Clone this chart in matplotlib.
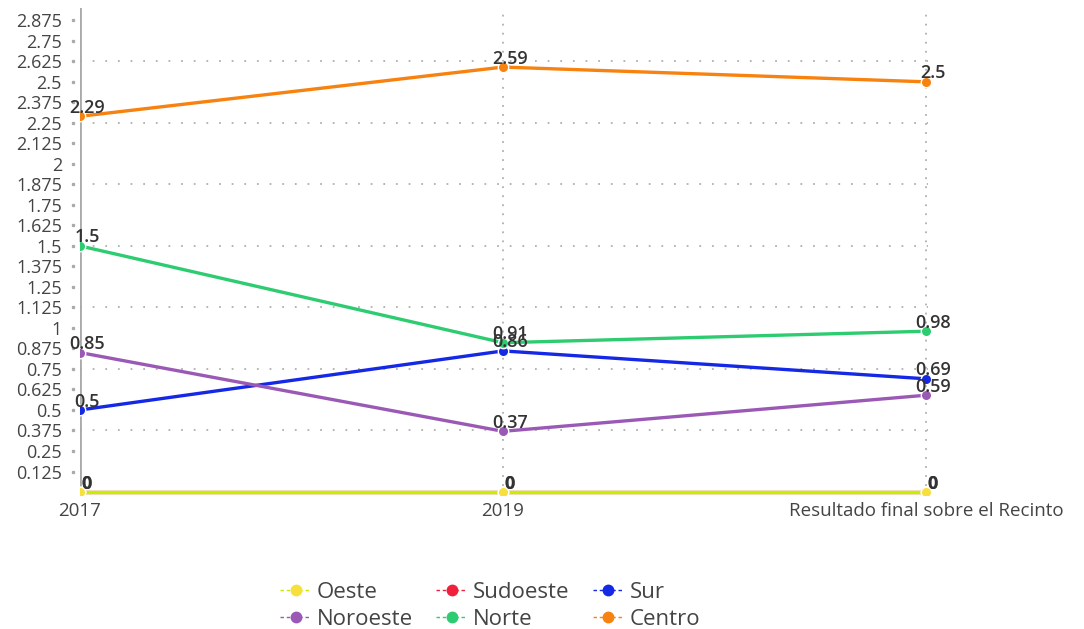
import matplotlib
matplotlib.use("Agg")
import matplotlib.pyplot as plt
from matplotlib.lines import Line2D
import numpy as np

plt.rcParams['font.family'] = ['Open Sans', 'DejaVu Sans']

categories = ["2017", "2019", "Resultado final sobre el Recinto"]
series_names = ["Oeste", "Sudoeste", "Sur", "Noroeste", "Norte", "Centro"]
oeste = [0, 0, 0]
sudoeste = [0, 0, 0]
sur = [0.5, 0.86, 0.69]
noroeste = [0.85, 0.37, 0.59]
norte = [1.5, 0.91, 0.98]
centro = [2.29, 2.59, 2.5]
yticks = [0.125, 0.25, 0.375, 0.5, 0.625, 0.75, 0.875, 1, 1.125, 1.25, 1.375, 1.5,
          1.625, 1.75, 1.875, 2, 2.125, 2.25, 2.375, 2.5, 2.625, 2.75, 2.875]
ytick_labels = ["0.125", "0.25", "0.375", "0.5", "0.625", "0.75", "0.875", "1", "1.125",
                "1.25", "1.375", "1.5", "1.625", "1.75", "1.875", "2", "2.125", "2.25",
                "2.375", "2.5", "2.625", "2.75", "2.875"]

values = [oeste, sudoeste, sur, noroeste, norte, centro]
marker_colors = ["#f7e03c", "#f0203c", "#1428e6", "#9b59b6", "#2ecc71", "#f7820f"]
line_colors = ["#c4f000", "#f0203c", "#1428e6", "#9b59b6", "#2ecc71", "#f7820f"]

W, H = 1084, 629
fig = plt.figure(figsize=(W / 100, H / 100), dpi=100)
ax_l, ax_r, ax_t, ax_b = 80, 935, 8, 495.3
ax = fig.add_axes([ax_l / W, 1 - ax_b / H, (ax_r - ax_l) / W, (ax_b - ax_t) / H])

x = np.arange(len(categories))
xmax = 2 * (ax_r - ax_l) / (926 - 80)
ax.set_xlim(0, xmax)
ymin, ymax = -0.02, 2.95
ax.set_ylim(ymin, ymax)
px_per_x = (926 - 80) / 2.0

# gridlines
for yv in yticks:
    if abs(yv / 0.375 - round(yv / 0.375)) < 1e-6:
        ax.plot([0, 2.005], [yv, yv], color="#b0b0b0", lw=1.3,
                linestyle=(0, (1, 6)), zorder=1)
for xv in x[1:]:
    ax.plot([xv, xv], [-0.02, 2.915], color="#b0b0b0", lw=1.3,
            linestyle=(0, (1, 4)), zorder=1)
ax.axvline(0, color="#aaaaaa", lw=2, zorder=1)
# y tick dots to the left of the axis
ax.plot([-7 / px_per_x] * len(yticks), yticks, linestyle="none", marker="s", ms=1.4,
        color="#aaaaaa", clip_on=False, zorder=1)

order = [1, 0, 2, 3, 4, 5]
for i in order:
    ax.plot(x, values[i], color=line_colors[i], lw=2.4, zorder=3,
            solid_capstyle="butt")
    ax.plot(x, values[i], linestyle="none", marker="o", ms=7.5,
            markerfacecolor=marker_colors[i], markeredgecolor="white",
            markeredgewidth=1.0, zorder=4)
    for xi, v in zip(x, values[i]):
        ax.annotate(f"{v:g}", (xi, v), xytext=(5, 2.5),
                    textcoords="offset points", ha="center", va="baseline",
                    fontsize=13, color="#333333",
                    fontweight="bold" if v == 0 else "semibold", zorder=5,
                    clip_on=False)

for s in ax.spines.values():
    s.set_visible(False)

ax.set_yticks(yticks)
ax.set_yticklabels(ytick_labels, fontsize=13, color="#444444")
ax.tick_params(axis="y", length=0, pad=13)
ax.set_xticks(x)
ax.set_xticklabels(categories, fontsize=13.5, color="#444444")
ax.tick_params(axis="x", length=0, pad=5)

leg_order = [0, 3, 1, 4, 2, 5]
handles = [Line2D([0], [0], color=line_colors[i], lw=1, linestyle=(0, (2.5, 2)),
                  marker="o", ms=7.5, markerfacecolor=marker_colors[i],
                  markeredgecolor=marker_colors[i])
           for i in leg_order]
labels = [series_names[i] for i in leg_order]
fig.legend(handles, labels, loc="center", bbox_to_anchor=(490 / W, 1 - 606 / H),
           ncol=3, frameon=False, fontsize=16, handlelength=1.4,
           handletextpad=0.25, columnspacing=1.05, labelspacing=0.28,
           labelcolor="#444444")

fig.savefig("out.png", dpi=100)
